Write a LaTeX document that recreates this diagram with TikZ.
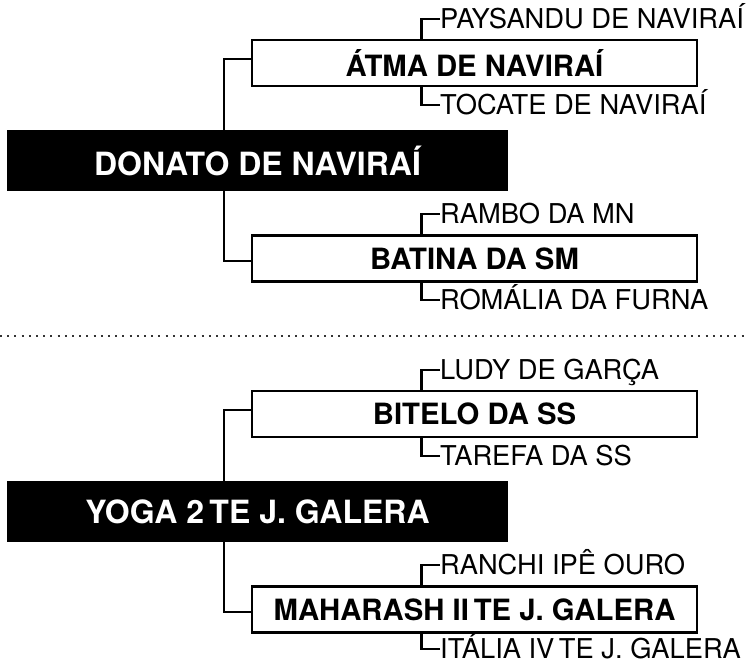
\documentclass[tikz,border=0pt]{standalone}
\usepackage{fontspec}
\setmainfont{TeX Gyre Heros}
\usepackage{tikz}
\usetikzlibrary{positioning,calc}
\tikzset{
  % animais
  mainhorse/.style={fill=black,text=white,inner sep=0pt,
             minimum width=501pt,minimum height=61pt,
             font=\fontsize{32}{32}\selectfont\bfseries},
  horse/.style={draw=black,fill=white,line width=2.8pt,inner sep=0pt,
             minimum width=445pt,minimum height=46pt,
             font=\fontsize{29.3}{29.3}\selectfont\bfseries},
  parentname/.style={anchor=west,inner sep=0pt,text height=19.5pt,text depth=0pt,
             font=\fontsize{27.3}{27.3}\selectfont},
  % linhas
  link/.style={draw=black,line width=2.8pt},
  divider/.style={draw=black!80,line width=2pt,dash pattern=on 2pt off 5.2pt},
}
\begin{document}
\begin{tikzpicture}[x=1pt,y=1pt]
\useasboundingbox (0,0) rectangle (746,-664);
  % primeiro animal
  \node[horse] (atma) at (474.5,-63) {ÁTMA DE NAVIRAÍ};
  \node[horse] (batina) at (474.5,-258.5) {BATINA DA SM};
  \coordinate (trunkA) at (224,-160.5);
  \draw[link] ([yshift=4pt]atma.west) -| (trunkA) |- ([yshift=-2.5pt]batina.west);
  \node[mainhorse] (donato) at (257.5,-160.5) {DONATO DE NAVIRAÍ};
  \node[parentname] (paysandu) at (440,-19) {PAYSANDU DE NAVIRAÍ};
  \node[parentname] (tocate) at (440,-105) {TOCATE DE NAVIRAÍ};
  \node[parentname] (rambo) at (440,-214) {RAMBO DA MN};
  \node[parentname] (romalia) at (440,-300) {ROMÁLIA DA FURNA};
  \draw[link] (paysandu.west) -| ([xshift=171pt]atma.north west);
  \draw[link] (tocate.west) -| ([xshift=171pt]atma.south west);
  \draw[link] (rambo.west) -| ([xshift=171pt]batina.north west);
  \draw[link] (romalia.west) -| ([xshift=171pt]batina.south west);
  % separador
  \coordinate (sepL) at (0,-336);
  \coordinate (sepR) at (746,-336);
  \draw[divider] (sepL) -- (sepR);
  % segundo animal
  \node[horse] (bitelo) at (474.5,-414) {BITELO DA SS};
  \node[horse] (maharash) at (474.5,-609.5) {MAHARASH II\,TE J. GALERA};
  \coordinate (trunkB) at (224,-511.5);
  \draw[link] ([yshift=4pt]bitelo.west) -| (trunkB) |- ([yshift=-2.5pt]maharash.west);
  \node[mainhorse] (yoga) at (257.5,-511.5) {YOGA 2\,TE J. GALERA};
  \node[parentname] (ludy) at (440,-370) {LUDY DE GARÇA};
  \node[parentname] (tarefa) at (440,-456) {TAREFA DA SS};
  \node[parentname] (ranchi) at (440,-565) {RANCHI IPÊ OURO};
  \node[parentname] (italia) at (440,-649) {ITÁLIA IV\,TE J. GALERA};
  \draw[link] (ludy.west) -| ([xshift=171pt]bitelo.north west);
  \draw[link] (tarefa.west) -| ([xshift=171pt]bitelo.south west);
  \draw[link] (ranchi.west) -| ([xshift=171pt]maharash.north west);
  \draw[link] (italia.west) -| ([xshift=171pt]maharash.south west);
\end{tikzpicture}
\end{document}
